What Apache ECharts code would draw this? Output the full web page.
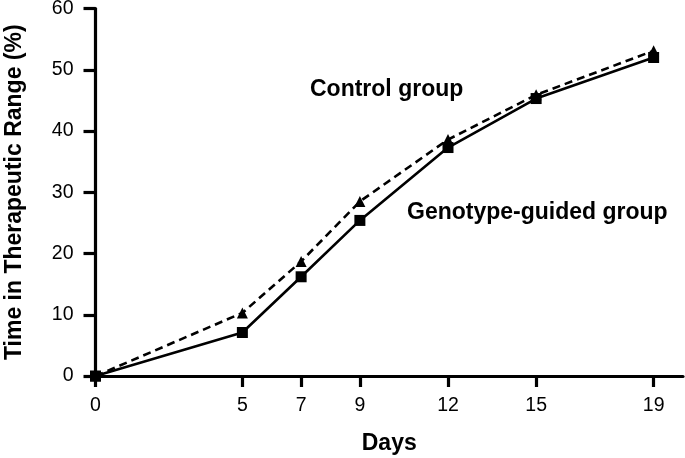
<!DOCTYPE html>
<html>
<head>
<meta charset="utf-8">
<script src="https://cdn.jsdelivr.net/npm/echarts@6/dist/echarts.min.js"></script>
<style>
html,body{margin:0;padding:0;background:#fff;}
#chart{width:685px;height:458px;}
</style>
</head>
<body>
<div id="chart"></div>
<script>
var days = [0, 5, 7, 9, 12, 15, 19];
var xTicks = [0, 5, 7, 9, 12, 15, 19];
var yTicks = [0, 10, 20, 30, 40, 50, 60];
var controlValues = [0, 10.3, 18.7, 28.5, 38.6, 45.9, 53.1];
var genotypeValues = [0, 7.1, 16.2, 25.4, 37.3, 45.3, 52.0];
var seriesNames = ['Control group', 'Genotype-guided group'];
var xTitle = 'Days';
var yTitle = 'Time in Therapeutic Range (%)';

function pairs(xs, ys) { return xs.map(function (x, i) { return [x, ys[i]]; }); }

var font = '"Liberation Sans", Arial, Helvetica, sans-serif';
var chart = echarts.init(document.getElementById('chart'), null, {renderer: 'canvas'});
chart.setOption({
  animation: false,
  backgroundColor: '#fff',
  grid: {left: 95.5, right: 2, top: 8.5, bottom: 82, containLabel: false, outerBoundsMode: 'none'},
  xAxis: {
    type: 'value', min: 0, max: 20,
    name: xTitle, nameLocation: 'middle', nameGap: 56,
    nameTextStyle: {fontFamily: font, fontSize: 23, fontWeight: 'bold', color: '#000'},
    axisLine: {show: true, onZero: false, lineStyle: {color: '#000', width: 3.2}},
    axisTick: {show: true, length: 11, inside: false, customValues: xTicks, lineStyle: {color: '#000', width: 3.2}},
    axisLabel: {show: true, customValues: xTicks, margin: 20, fontFamily: font, fontSize: 19.5, color: '#000'},
    splitLine: {show: false}
  },
  yAxis: {
    type: 'value', min: 0, max: 60, interval: 10,
    name: yTitle, nameLocation: 'middle', nameGap: 69, nameRotate: 90,
    nameTextStyle: {fontFamily: font, fontSize: 23, fontWeight: 'bold', color: '#000'},
    axisLine: {show: true, onZero: false, lineStyle: {color: '#000', width: 3.2}},
    axisTick: {show: true, length: 12, inside: false, lineStyle: {color: '#000', width: 3.2}},
    axisLabel: {show: true, margin: 22, fontFamily: font, fontSize: 19.5, color: '#000'},
    splitLine: {show: false}
  },
  series: [
    {
      name: seriesNames[0], type: 'line', data: pairs(days, controlValues),
      symbol: 'triangle', symbolSize: 11,
      lineStyle: {color: '#000', width: 2.6, type: [8, 5]},
      itemStyle: {color: '#000'}, z: 3
    },
    {
      name: seriesNames[1], type: 'line', data: pairs(days, genotypeValues),
      symbol: 'rect', symbolSize: 11,
      lineStyle: {color: '#000', width: 2.6, type: 'solid'},
      itemStyle: {color: '#000'}, z: 4
    }
  ],
  graphic: [
    {type: 'text', left: 310, top: 78, style: {text: seriesNames[0], font: 'bold 23px ' + font, fill: '#000'}},
    {type: 'text', left: 407, top: 201, style: {text: seriesNames[1], font: 'bold 23px ' + font, fill: '#000'}}
  ]
});
</script>
</body>
</html>
